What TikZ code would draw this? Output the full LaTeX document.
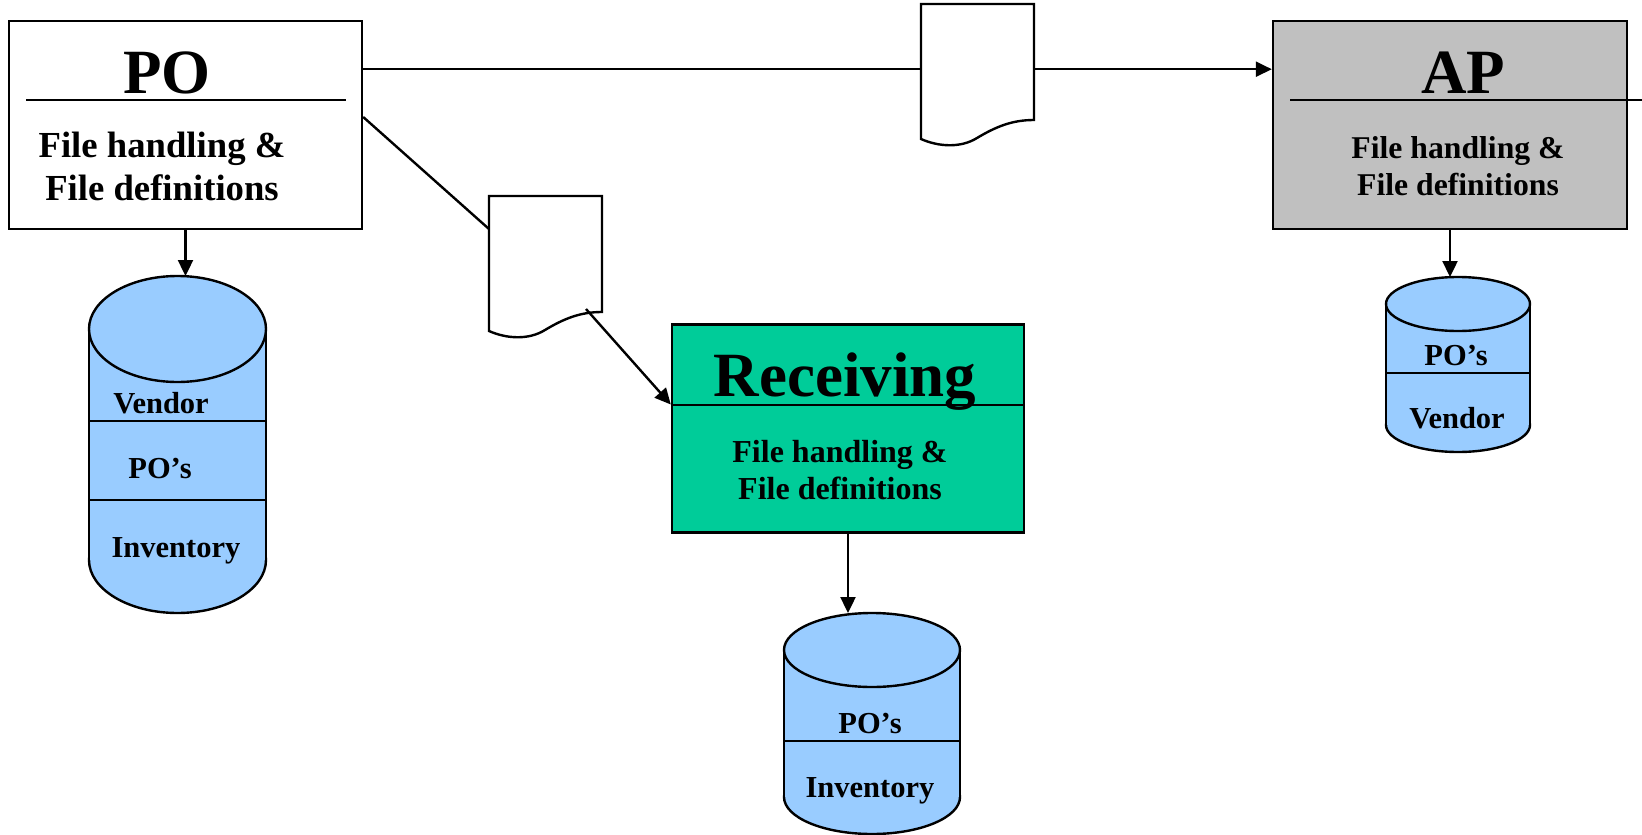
\documentclass[tikz,border=0pt]{standalone}
\usepackage{fontspec}
\setmainfont{Liberation Serif}
\usetikzlibrary{arrows.meta}

\definecolor{dbblue}{HTML}{99CCFF}
\definecolor{rcvgreen}{HTML}{00CC99}
\definecolor{apgrey}{HTML}{C0C0C0}

\tikzset{
    module/.style={draw, line width=2.4pt, inner sep=0pt, minimum height=208pt},
    title/.style={font=\fontsize{63}{63}\selectfont\bfseries, anchor=base, inner sep=0pt},
    body/.style={align=center, anchor=base, inner sep=0pt},
    tag/.style={font=\fontsize{30.5}{30.5}\selectfont\bfseries, anchor=base, inner sep=0pt},
    rule/.style={line width=2.4pt},
    flow/.style={line width=2.4pt, -{Triangle[length=16pt,width=15pt]}},
}

% drum: name, centre x, top y, bottom y, x radius, y radius
\newcommand{\dbdrum}[6]{
    \filldraw[rule, fill=dbblue] (#2,#4) ellipse [x radius=#5, y radius=#6];
    \fill[dbblue] (#2-#5,#3) rectangle (#2+#5,#4);
    \draw[rule] (#2-#5,#3) -- (#2-#5,#4) (#2+#5,#3) -- (#2+#5,#4);
    \filldraw[rule, fill=dbblue] (#2,#3) ellipse [x radius=#5, y radius=#6];
    \coordinate (#1) at (#2,#3-#6);
}
% paper sheet with a wavy lower edge: name, top left corner
\newcommand{\docsheet}[2]{
    \begin{scope}[shift={#2}]
        \filldraw[rule, fill=white] (0,0) -- (113,0) -- (113,116)
            .. controls (92,116) and (76,122) .. (56,134)
            .. controls (40,144) and (18,143) .. (0,135) -- cycle;
        \node[inner sep=0pt, minimum width=113pt, minimum height=130pt, anchor=north west] (#1) at (0,0) {};
    \end{scope}
}

\begin{document}
\begin{tikzpicture}[x=1pt, y=-1pt]
    \useasboundingbox (0,0) rectangle (1642,835);

    \node[module, fill=white, minimum width=353pt] (PO) at (185.5,125) {};
    \draw[rule] (26,100) -- (346,100);
    \node[title] at (167,93) {PO};
    \node[body, font=\fontsize{36.7}{43}\selectfont\bfseries] at (162,200) {File handling \&\\File definitions};

    \node[module, fill=apgrey, minimum width=354pt] (AP) at (1450,125) {};
    \draw[rule] (1290,100) -- (1642,100);
    \node[title] at (1463,93) {AP};
    \node[body, font=\fontsize{31.7}{37}\selectfont\bfseries] at (1458,195) {File handling \&\\File definitions};

    \node[module, fill=rcvgreen, minimum width=352pt] (Rcv) at (848,428.5) {};
    \draw[rule] (Rcv.west |- 0,405) -- (Rcv.east |- 0,405);
    \node[title] at (845,396) {Receiving};
    \node[body, font=\fontsize{32}{37}\selectfont\bfseries] at (840,499) {File handling \&\\File definitions};

    \dbdrum{PODb}{177.5}{329}{560}{88.5}{53}
    \draw[rule] (89,421) -- (266,421) (89,500) -- (266,500);
    \node[tag] at (161,413) {Vendor};
    \node[tag] at (160,478) {PO’s};
    \node[tag] at (176,557) {Inventory};

    \dbdrum{APDb}{1458}{304}{425}{72}{27}
    \draw[rule] (1386,373) -- (1530,373);
    \node[tag] at (1456,365) {PO’s};
    \node[tag] at (1457,428) {Vendor};

    \dbdrum{RcvDb}{872}{650}{797}{88}{37}
    \draw[rule] (784,741) -- (960,741);
    \node[tag] at (870,733) {PO’s};
    \node[tag] at (870,797) {Inventory};

    \docsheet{SheetA}{(921,4)}
    \docsheet{SheetB}{(489,196)}
    \coordinate (SheetB-in) at (489,229);
    \coordinate (SheetB-out) at (586,309);

    \draw[rule] (SheetA.west -| PO.east) -- (SheetA.west);
    \draw[flow] (SheetA.east) -- (SheetA.east -| AP.west);
    \draw[rule] ([yshift=8pt]PO.east) -- (SheetB-in);
    \draw[flow] (SheetB-out) -- ([yshift=24pt]Rcv.west);
    \draw[flow] (PO.south) -- (PO.south |- PODb);
    \draw[flow] (AP.south) -- (AP.south |- APDb);
    \draw[flow] (Rcv.south) -- (Rcv.south |- RcvDb);
\end{tikzpicture}
\end{document}
